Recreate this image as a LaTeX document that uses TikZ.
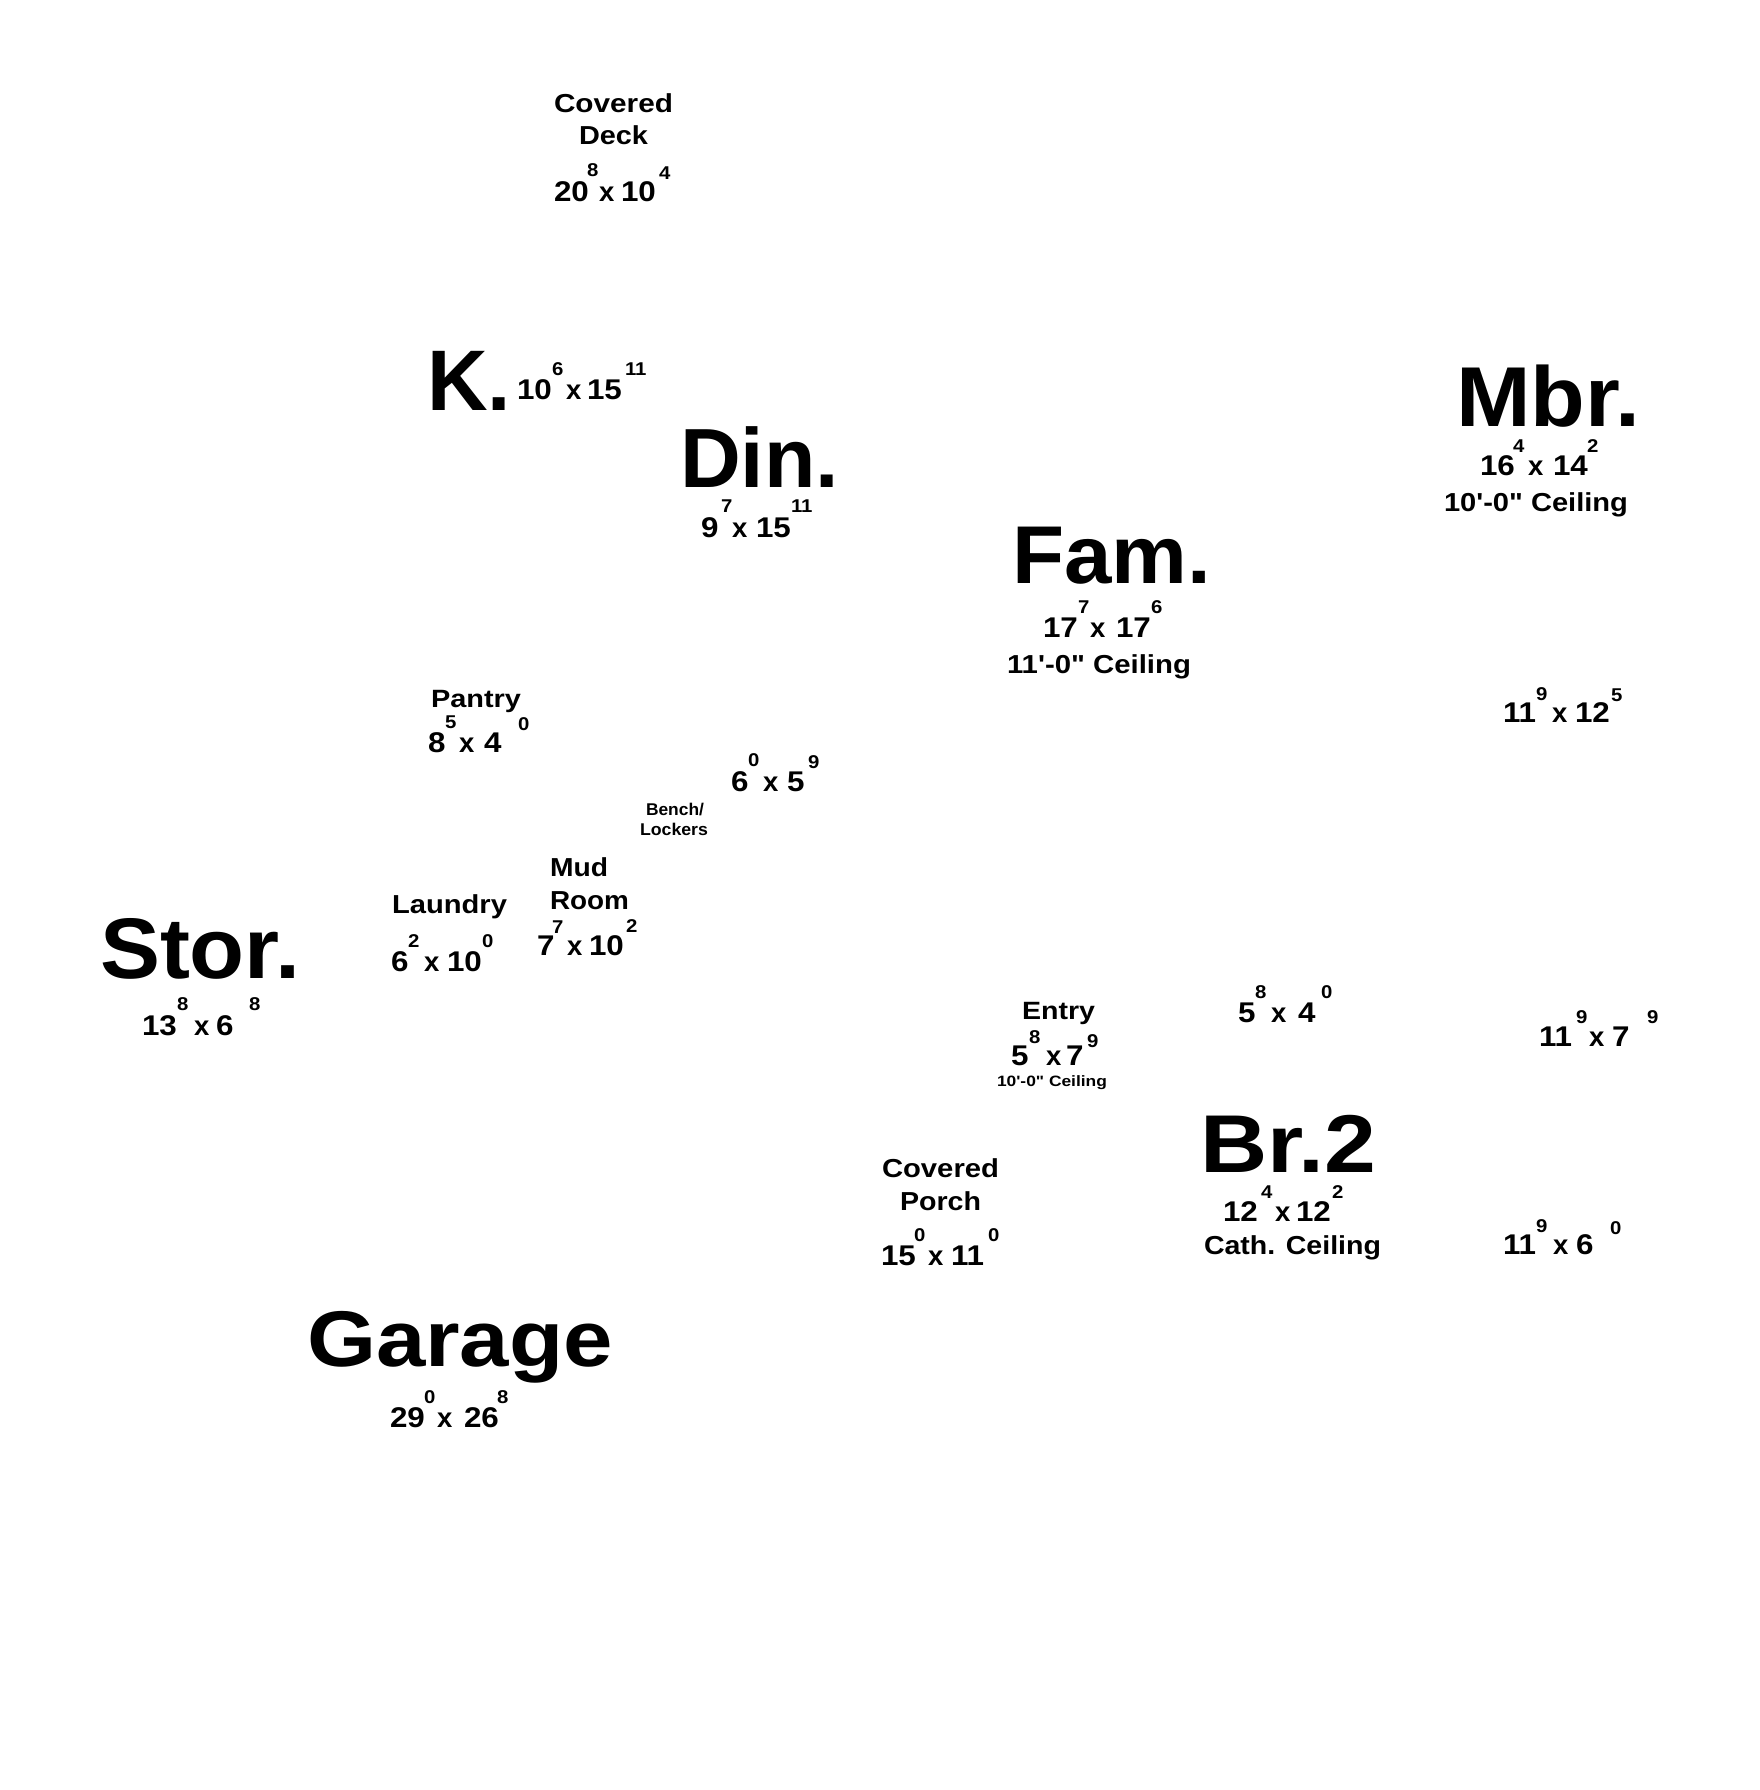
\documentclass[tikz,border=0pt]{standalone}
\usepackage{fontspec}
\usepackage{graphicx}
\setmainfont{Liberation Sans}
\newfontfamily\numfont{Liberation Sans}[FakeStretch=1.1]
\newdimen\fitlen
\newcommand\fitw[2]{\settowidth{\fitlen}{#2}\pgfmathsetmacro\fitr{#1/\fitlen}\scalebox{\fitr}[1]{#2}}
\newcommand\qs{\textquotesingle}
\newcommand\qd{\textquotedbl}
\tikzset{
  rmlbl/.style={inner sep=0pt, outer sep=0pt, anchor=base west},
  rmbig/.style={rmlbl, font=\bfseries\fontsize{#1}{#1}\selectfont},
  rmword/.style={rmlbl, font=\bfseries\fontsize{26}{26}\selectfont},
  rmsmall/.style={rmlbl, font=\bfseries\fontsize{#1}{#1}\selectfont},
  rmnum/.style={rmlbl, font=\numfont\bfseries\fontsize{28.5}{28.5}\selectfont},
  rmtimes/.style={rmlbl, font=\bfseries\fontsize{27.5}{27.5}\selectfont},
  rmsup/.style={rmlbl, font=\numfont\bfseries\fontsize{18.5}{18.5}\selectfont},
}
\begin{document}
\begin{tikzpicture}[x=1pt,y=-1pt]
\useasboundingbox[fill=white] (0,0) rectangle (1760,1790);

% ---------- Covered Deck ----------
\node[rmword] (deckT1) at (554,113) {\fitw{119}{Covered}};
\node[rmword] (deckT2) at (579,145) {\fitw{69}{Deck}};
\node[rmnum] (deckA) at (554,202) {20};
\node[rmsup] (deckAs) at (587,177) {8};
\node[rmtimes] (deckX) at (599,202) {x};
\node[rmnum] (deckB) at (621,202) {10};
\node[rmsup] (deckBs) at (659,180) {4};

% ---------- K. ----------
\node[rmbig=86] (kT) at (427,410) {\fitw{84}{K.}};
\node[rmnum] (kA) at (517,399) {10};
\node[rmsup] (kAs) at (552,375) {6};
\node[rmtimes] (kX) at (566,399) {x};
\node[rmnum] (kB) at (587,399) {15};
\node[rmsup] (kBs) at (625,375) {11};

% ---------- Din. ----------
\node[rmbig=84] (dinT) at (680,487) {\fitw{159}{Din.}};
\node[rmnum] (dinA) at (701,537) {9};
\node[rmsup] (dinAs) at (721,512) {7};
\node[rmtimes] (dinX) at (732,537) {x};
\node[rmnum] (dinB) at (756,537) {15};
\node[rmsup] (dinBs) at (791,512) {11};

% ---------- Mbr. ----------
\node[rmbig=85] (mbrT) at (1456,426) {\fitw{184}{Mbr.}};
\node[rmnum] (mbrA) at (1480,475) {16};
\node[rmsup] (mbrAs) at (1513,452) {4};
\node[rmtimes] (mbrX) at (1528,475) {x};
\node[rmnum] (mbrB) at (1553,475) {14};
\node[rmsup] (mbrBs) at (1587,452) {2};
\node[rmword] (mbrC) at (1444,511) {\fitw{184}{10\qs-0\qd\ Ceiling}};

% ---------- Fam. ----------
\node[rmbig=82] (famT) at (1012,583) {\fitw{199}{Fam.}};
\node[rmnum] (famA) at (1043,637) {17};
\node[rmsup] (famAs) at (1078,613) {7};
\node[rmtimes] (famX) at (1090,637) {x};
\node[rmnum] (famB) at (1116,637) {17};
\node[rmsup] (famBs) at (1151,613) {6};
\node[rmword] (famC) at (1007,673) {\fitw{184}{11\qs-0\qd\ Ceiling}};

% ---------- Pantry ----------
\node[rmsmall=25] (panT) at (431,707) {\fitw{90}{Pantry}};
\node[rmnum] (panA) at (428,752) {8};
\node[rmsup] (panAs) at (445,728) {5};
\node[rmtimes] (panX) at (459,752) {x};
\node[rmnum] (panB) at (484,752) {4};
\node[rmsup] (panBs) at (518,730) {0};

% ---------- 6 x 5 ----------
\node[rmnum] (hallA) at (731,791) {6};
\node[rmsup] (hallAs) at (748,766) {0};
\node[rmtimes] (hallX) at (763,791) {x};
\node[rmnum] (hallB) at (787,791) {5};
\node[rmsup] (hallBs) at (808,768) {9};

% ---------- Bench / Lockers ----------
\node[rmsmall=17] (benchT1) at (646,815) {\fitw{58}{Bench/}};
\node[rmsmall=17] (benchT2) at (640,835) {\fitw{68}{Lockers}};

% ---------- Stor. ----------
\node[rmbig=86] (storT) at (100,978) {\fitw{200}{Stor.}};
\node[rmnum] (storA) at (142,1035) {13};
\node[rmsup] (storAs) at (177,1010) {8};
\node[rmtimes] (storX) at (194,1035) {x};
\node[rmnum] (storB) at (216,1035) {6};
\node[rmsup] (storBs) at (249,1010) {8};

% ---------- Laundry ----------
\node[rmword] (lauT) at (392,913) {\fitw{115}{Laundry}};
\node[rmnum] (lauA) at (391,971) {6};
\node[rmsup] (lauAs) at (408,947) {2};
\node[rmtimes] (lauX) at (424,971) {x};
\node[rmnum] (lauB) at (447,971) {10};
\node[rmsup] (lauBs) at (482,947) {0};

% ---------- Mud Room ----------
\node[rmword] (mudT1) at (550,876) {\fitw{58}{Mud}};
\node[rmword] (mudT2) at (550,909) {\fitw{79}{Room}};
\node[rmnum] (mudA) at (537,955) {7};
\node[rmsup] (mudAs) at (552,933) {7};
\node[rmtimes] (mudX) at (567,955) {x};
\node[rmnum] (mudB) at (589,955) {10};
\node[rmsup] (mudBs) at (626,932) {2};

% ---------- Entry ----------
\node[rmsmall=25] (entT) at (1022,1019) {\fitw{73}{Entry}};
\node[rmnum] (entA) at (1011,1065) {5};
\node[rmsup] (entAs) at (1029,1043) {8};
\node[rmtimes] (entX) at (1046,1065) {x};
\node[rmnum] (entB) at (1066,1065) {7};
\node[rmsup] (entBs) at (1087,1047) {9};
\node[rmsmall=15] (entC) at (997,1086) {\fitw{110}{10\qs-0\qd\ Ceiling}};

% ---------- 5 x 4 ----------
\node[rmnum] (closA) at (1238,1022) {5};
\node[rmsup] (closAs) at (1255,998) {8};
\node[rmtimes] (closX) at (1271,1022) {x};
\node[rmnum] (closB) at (1298,1022) {4};
\node[rmsup] (closBs) at (1321,998) {0};

% ---------- 11 x 7 ----------
\node[rmnum] (bathA) at (1539,1046) {11};
\node[rmsup] (bathAs) at (1576,1023) {9};
\node[rmtimes] (bathX) at (1589,1046) {x};
\node[rmnum] (bathB) at (1612,1046) {7};
\node[rmsup] (bathBs) at (1647,1023) {9};

% ---------- Covered Porch ----------
\node[rmword] (porT1) at (882,1177) {\fitw{117}{Covered}};
\node[rmword] (porT2) at (900,1210) {\fitw{81}{Porch}};
\node[rmnum] (porA) at (881,1265) {15};
\node[rmsup] (porAs) at (914,1241) {0};
\node[rmtimes] (porX) at (928,1265) {x};
\node[rmnum] (porB) at (951,1265) {11};
\node[rmsup] (porBs) at (988,1241) {0};

% ---------- Br.2 ----------
\node[rmbig=82] (brT) at (1200,1172) {\fitw{176}{Br.2}};
\node[rmnum] (brA) at (1223,1221) {12};
\node[rmsup] (brAs) at (1261,1198) {4};
\node[rmtimes] (brX) at (1275,1221) {x};
\node[rmnum] (brB) at (1296,1221) {12};
\node[rmsup] (brBs) at (1332,1198) {2};
\node[rmword] (brC) at (1204,1254) {\fitw{177}{Cath. Ceiling}};

% ---------- Garage ----------
\node[rmbig=79] (garT) at (307,1366) {\fitw{306}{Garage}};
\node[rmnum] (garA) at (390,1427) {29};
\node[rmsup] (garAs) at (424,1403) {0};
\node[rmtimes] (garX) at (437,1427) {x};
\node[rmnum] (garB) at (464,1427) {26};
\node[rmsup] (garBs) at (497,1403) {8};

% ---------- 11 x 12 ----------
\node[rmnum] (br3A) at (1503,722) {11};
\node[rmsup] (br3As) at (1536,700) {9};
\node[rmtimes] (br3X) at (1552,722) {x};
\node[rmnum] (br3B) at (1575,722) {12};
\node[rmsup] (br3Bs) at (1611,701) {5};

% ---------- 11 x 6 ----------
\node[rmnum] (wicA) at (1503,1254) {11};
\node[rmsup] (wicAs) at (1536,1232) {9};
\node[rmtimes] (wicX) at (1553,1254) {x};
\node[rmnum] (wicB) at (1576,1254) {6};
\node[rmsup] (wicBs) at (1610,1234) {0};
\end{tikzpicture}
\end{document}
